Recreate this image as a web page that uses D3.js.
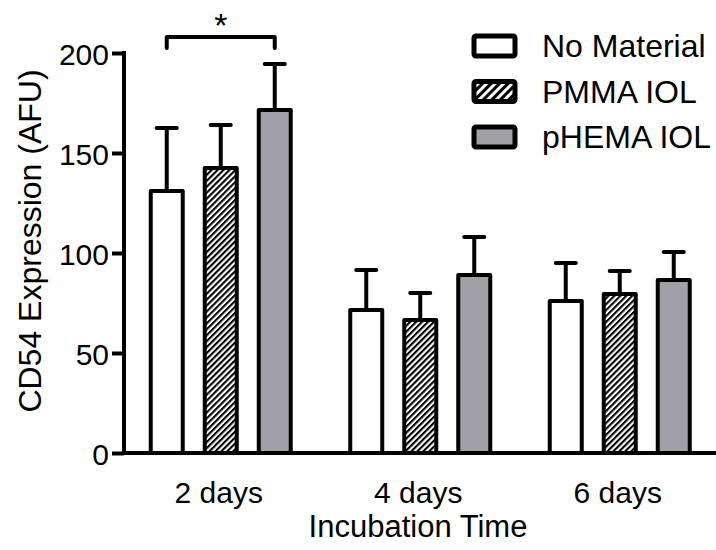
<!DOCTYPE html>
<html>
<head>
<meta charset="utf-8">
<script src="https://cdn.jsdelivr.net/npm/d3@7"></script>
<style>
  body { margin: 0; background: #fff; }
  svg text { font-family: "Liberation Sans", Arial, sans-serif; fill: #000; }
</style>
</head>
<body>
<svg width="716" height="550"></svg>
<script>
var days = ["2 days", "4 days", "6 days"];
var series = ["No Material", "PMMA IOL", "pHEMA IOL"];
var noMaterial = [131, 71.5, 76];
var noMaterialErr = [31.5, 20, 19];
var pmma = [142.5, 66.5, 79.5];
var pmmaErr = [21.5, 13.5, 11.5];
var phema = [171.5, 89, 86.5];
var phemaErr = [23, 19, 14];
var yTicks = [0, 50, 100, 150, 200];

var svg = d3.select("svg");

var defs = svg.append("defs");
// diagonal hatch for the PMMA bars
defs.append("pattern")
    .attr("id", "hatch")
    .attr("patternUnits", "userSpaceOnUse")
    .attr("width", 4.2).attr("height", 4.2)
    .attr("patternTransform", "rotate(45)")
  .call(function(p) {
    p.append("rect").attr("width", 4.2).attr("height", 4.2).attr("fill", "#fff");
    p.append("line").attr("x1", 0).attr("y1", 0).attr("x2", 0).attr("y2", 4.2)
      .attr("stroke", "#000").attr("stroke-width", 4.2);
  });
defs.append("pattern")
    .attr("id", "hatchLegend")
    .attr("patternUnits", "userSpaceOnUse")
    .attr("width", 6).attr("height", 6)
    .attr("patternTransform", "rotate(45)")
  .call(function(p) {
    p.append("rect").attr("width", 6).attr("height", 6).attr("fill", "#fff");
    p.append("line").attr("x1", 0).attr("y1", 0).attr("x2", 0).attr("y2", 6)
      .attr("stroke", "#000").attr("stroke-width", 6);
  });

var fills = { "No Material": "#fff", "PMMA IOL": "url(#hatch)", "pHEMA IOL": "#a09fa5" };
var legendFills = { "No Material": "#fff", "PMMA IOL": "url(#hatchLegend)", "pHEMA IOL": "#a09fa5" };

var rows = [];
days.forEach(function(d, i) {
  rows.push({ day: d, s: series[0], v: noMaterial[i], e: noMaterialErr[i] });
  rows.push({ day: d, s: series[1], v: pmma[i], e: pmmaErr[i] });
  rows.push({ day: d, s: series[2], v: phema[i], e: phemaErr[i] });
});

var x0 = d3.scaleBand().domain(days).range([121, 719.5]);
var x1 = d3.scaleBand().domain(series).range([-81, 81]);
var y = d3.scaleLinear().domain([0, 200]).range([453, 53]);
var barW = 32;

function barX(d) {
  return x0(d.day) + x0.bandwidth() / 2 + x1(d.s) + (x1.bandwidth() - barW) / 2;
}
function barC(d) {
  return x0(d.day) + x0.bandwidth() / 2 + x1(d.s) + x1.bandwidth() / 2;
}

// error bars (upper only)
var gErr = svg.append("g").attr("stroke", "#000").attr("stroke-width", 4);
gErr.selectAll("line.stem").data(rows).enter().append("line")
    .attr("class", "stem")
    .attr("x1", barC).attr("x2", barC)
    .attr("y1", function(d) { return y(d.v); })
    .attr("y2", function(d) { return y(d.v + d.e); });
gErr.selectAll("line.cap").data(rows).enter().append("line")
    .attr("class", "cap")
    .attr("stroke-linecap", "round")
    .attr("x1", function(d) { return barC(d) - 10; })
    .attr("x2", function(d) { return barC(d) + 10; })
    .attr("y1", function(d) { return y(d.v + d.e); })
    .attr("y2", function(d) { return y(d.v + d.e); });

// bars
svg.append("g").selectAll("rect").data(rows).enter().append("rect")
    .attr("x", barX)
    .attr("width", barW)
    .attr("y", function(d) { return y(d.v); })
    .attr("height", function(d) { return y(0) - y(d.v); })
    .attr("fill", function(d) { return fills[d.s]; })
    .attr("stroke", "#000")
    .attr("stroke-width", 4)
    .attr("stroke-linejoin", "round");

// y axis
var yAxis = svg.append("g")
    .attr("transform", "translate(124,0)")
    .call(d3.axisLeft(y).tickValues(yTicks).tickSize(12).tickPadding(3).tickFormat(d3.format("d")));
yAxis.select(".domain").attr("stroke-width", 4).attr("d", "M0," + (y(200) - 2) + "V" + (y(0) + 2));
yAxis.selectAll(".tick line").attr("stroke-width", 4);
yAxis.selectAll(".tick text").attr("font-size", 30).attr("dy", "0.38em")
    .style("font-family", "Liberation Sans, Arial, sans-serif");

// x axis baseline
svg.append("line")
    .attr("x1", 122).attr("x2", 716)
    .attr("y1", y(0)).attr("y2", y(0))
    .attr("stroke", "#000").attr("stroke-width", 4);

// x tick labels
svg.append("g").selectAll("text").data(days).enter().append("text")
    .attr("x", function(d) { return x0(d) + x0.bandwidth() / 2 - 2; })
    .attr("y", 503)
    .attr("text-anchor", "middle")
    .attr("font-size", 30)
    .text(function(d) { return d; });

// axis titles
svg.append("text")
    .attr("x", 418).attr("y", 537)
    .attr("text-anchor", "middle")
    .attr("font-size", 31)
    .text("Incubation Time");
svg.append("text")
    .attr("transform", "translate(41,241) rotate(-90)")
    .attr("text-anchor", "middle")
    .attr("font-size", 32)
    .text("CD54 Expression (AFU)");

// significance bracket between No Material and pHEMA at 2 days
var bl = barC(rows[0]), br = barC(rows[2]);
svg.append("path")
    .attr("d", "M" + bl + ",48V37H" + br + "V48")
    .attr("fill", "none").attr("stroke", "#000").attr("stroke-width", 4)
    .attr("stroke-linejoin", "round").attr("stroke-linecap", "round");
svg.append("text")
    .attr("x", (bl + br) / 2).attr("y", 37)
    .attr("text-anchor", "middle")
    .attr("font-size", 34)
    .text("*");

// legend
var legend = svg.append("g").selectAll("g").data(series).enter().append("g")
    .attr("transform", function(d, i) { return "translate(474," + (36 + i * 45.5) + ")"; });
legend.append("rect")
    .attr("width", 41).attr("height", 20)
    .attr("rx", 2)
    .attr("fill", function(d) { return legendFills[d]; })
    .attr("stroke", "#000").attr("stroke-width", 5);
legend.append("text")
    .attr("x", 68).attr("y", 21)
    .attr("font-size", 32)
    .text(function(d) { return d; });
</script>
</body>
</html>
